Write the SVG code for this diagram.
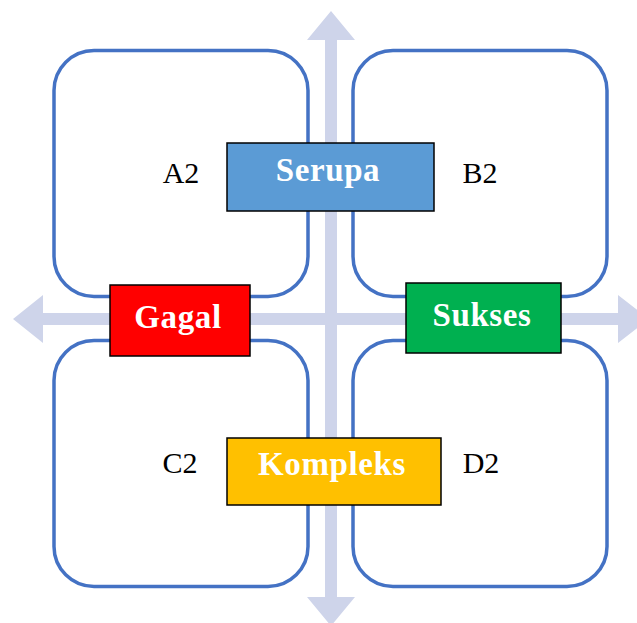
<svg xmlns="http://www.w3.org/2000/svg" width="637" height="623" viewBox="0 0 637 623">
<style>
.quad{fill:none;stroke:#4472C4;stroke-width:3.5}
.arr{fill:#CED4EA}
.box{stroke:#000;stroke-width:1.5}
.lbl{font-family:"Liberation Serif","DejaVu Serif",serif;font-weight:bold;font-size:33px;letter-spacing:0.6px;fill:#fff;text-anchor:middle}
.q{font-family:"Liberation Serif","DejaVu Serif",serif;font-size:30px;fill:#000;text-anchor:middle}
</style>
<rect width="637" height="623" fill="#fff"/>
<g id="quadrants">
<rect class="quad" x="54" y="50.5" width="254" height="246" rx="40"/>
<rect class="quad" x="353" y="50.5" width="254" height="246" rx="40"/>
<rect class="quad" x="54" y="340.5" width="254" height="246" rx="40"/>
<rect class="quad" x="353" y="340.5" width="254" height="246" rx="40"/>
</g>
<g id="connectors">
<path class="arr" d="M331 11 L355 40 L337 40 L337 313 L618 313 L618 295 L649 319 L618 343 L618 325 L337 325 L337 597 L355 597 L331 626 L307 597 L325 597 L325 325 L43 325 L43 343 L13 319 L43 295 L43 313 L325 313 L325 40 L307 40 Z"/>
</g>
<g id="serupa">
<rect class="box" x="227" y="143" width="207" height="68" fill="#5B9BD5"/>
<text class="lbl" x="328" y="181">Serupa</text>
</g>
<g id="gagal">
<rect class="box" x="110" y="285" width="140" height="71" fill="#FF0000"/>
<text class="lbl" x="178" y="328">Gagal</text>
</g>
<g id="sukses">
<rect class="box" x="406" y="283" width="155" height="70" fill="#00B050"/>
<text class="lbl" x="482" y="326">Sukses</text>
</g>
<g id="kompleks">
<rect class="box" x="227" y="438" width="214" height="67" fill="#FFC000"/>
<text class="lbl" x="332" y="475">Kompleks</text>
</g>
<g id="labels">
<text class="q" x="181" y="183">A2</text>
<text class="q" x="480" y="183">B2</text>
<text class="q" x="180" y="473">C2</text>
<text class="q" x="481" y="473">D2</text>
</g>
</svg>
